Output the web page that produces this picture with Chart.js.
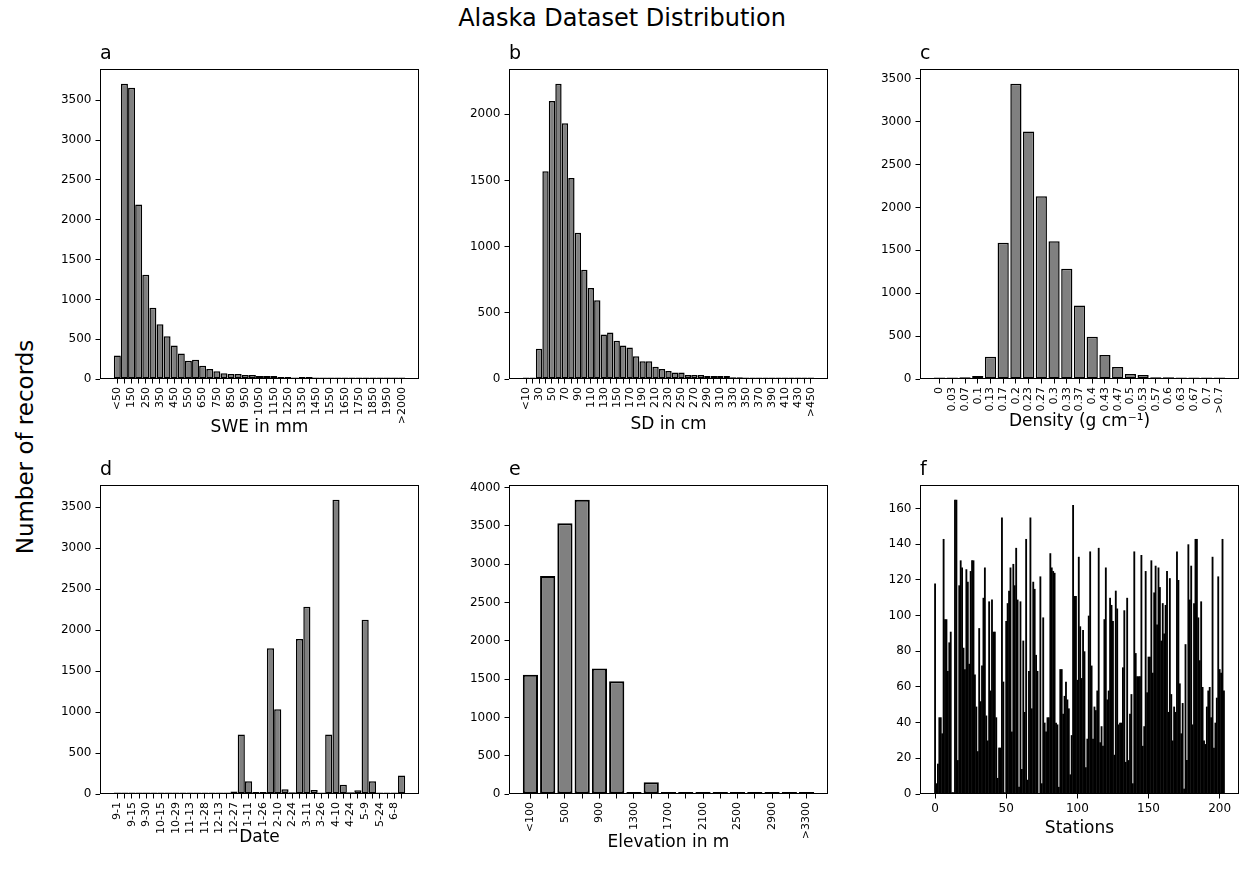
<!DOCTYPE html>
<html>
<head>
<meta charset="utf-8">
<title>Alaska Dataset Distribution</title>
<script src="https://cdn.jsdelivr.net/npm/chart.js@4.4.1/dist/chart.umd.min.js"></script>
<style>
  html, body { margin: 0; padding: 0; background: #fff; }
  #fig {
    position: relative; width: 1244px; height: 876px; overflow: hidden;
    background: #fff; color: #000; font-family: 'DejaVu Sans', sans-serif;
  }
  #fig canvas { position: absolute; }
  #suptitle {
    position: absolute; left: 0; top: 4px; width: 1244px;
    text-align: center; font-size: 24px; line-height: 28px;
  }
  #supylabel {
    position: absolute; left: 25px; top: 447px; white-space: nowrap;
    font-size: 23px; line-height: 28px;
    transform: translate(-50%, -50%) rotate(-90deg);
  }
</style>
</head>
<body>
<div id="fig">
  <div id="suptitle">Alaska Dataset Distribution</div>
  <div id="supylabel">Number of records</div>
  <canvas id="panel-a"></canvas>
  <canvas id="panel-b"></canvas>
  <canvas id="panel-c"></canvas>
  <canvas id="panel-d"></canvas>
  <canvas id="panel-e"></canvas>
  <canvas id="panel-f"></canvas>
</div>

<script>
/* ---------- data ---------- */

// a: SWE bins of 50 mm (labels shown on every other bin)
var sweTicks = ['<50', '150', '250', '350', '450', '550', '650', '750', '850', '950',
  '1050', '1150', '1250', '1350', '1450', '1550', '1650', '1750', '1850', '1950', '>2000'];
var sweCounts = [296, 3708, 3658, 2192, 1308, 896, 688, 538, 421, 321,
  229, 242, 167, 125, 96, 71, 62, 62, 50, 50,
  37, 37, 37, 25, 25, 12, 25, 25, 12, 8,
  8, 8, 8, 8, 8, 8, 8, 8, 8, 8, 8];

// b: snow depth bins of 10 cm
var sdTicks = ['<10', '30', '50', '70', '90', '110', '130', '150', '170', '190', '210',
  '230', '250', '270', '290', '310', '330', '350', '370', '390', '410', '430', '>450'];
var sdCounts = [3, 0, 228, 1570, 2100, 2230, 1932, 1518, 1104, 825,
  687, 594, 336, 351, 288, 253, 238, 171, 135, 135,
  93, 75, 60, 50, 50, 30, 30, 30, 23, 23,
  23, 23, 13, 13, 5, 10, 3, 10, 10, 3,
  3, 3, 3, 3, 3];

// c: bulk density
var densityTicks = ['0', '0.03', '0.07', '0.1', '0.13', '0.17', '0.2', '0.23', '0.27', '0.3',
  '0.33', '0.37', '0.4', '0.43', '0.47', '0.5', '0.53', '0.57', '0.6', '0.63', '0.67', '0.7', '>0.7'];
var densityCounts = [3, 3, 19, 35, 260, 1587, 3441, 2886, 2130, 1606,
  1284, 857, 493, 279, 140, 58, 47, 19, 19, 8,
  8, 8, 8];

// d: survey date, one bin per ~week
var dateTicks = ['9-1', '9-15', '9-30', '10-15', '10-29', '11-13', '11-28', '12-13', '12-27', '1-11',
  '1-26', '2-10', '2-24', '3-11', '3-26', '4-10', '4-24', '5-9', '5-24', '6-8'];
var dateCounts = [0, 0, 0, 0, 0, 0, 0, 0, 0, 0,
  0, 0, 0, 0, 0, 0, 30, 726, 154, 25,
  25, 1776, 1034, 57, 20, 1890, 2283, 49, 5, 726,
  3589, 114, 20, 45, 2125, 154, 0, 0, 0, 227];

// e: station elevation, 200 m bins
var elevTicks = ['<100', '500', '900', '1300', '1700', '2100', '2500', '2900', '>3300'];
var elevCounts = [1557, 2848, 3535, 3843, 1639, 1474, 0, 152, 0, 0,
  0, 0, 0, 0, 0, 0, 0];

// f: records per station
var stationTicks = [0, 50, 100, 150, 200];
var stationCounts = [
  118, 6, 17, 43, 43, 34, 143, 98, 98, 69,
  85, 91, 1, 1, 165, 165, 19, 117, 131, 127,
  82, 70, 126, 119, 73, 125, 131, 131, 67, 49,
  24, 93, 52, 72, 110, 127, 44, 30, 108, 58,
  109, 91, 91, 43, 9, 26, 26, 155, 63, 1,
  97, 107, 114, 127, 35, 129, 117, 138, 109, 4,
  108, 14, 86, 46, 143, 8, 69, 155, 48, 119,
  115, 78, 69, 0, 122, 6, 99, 40, 35, 43,
  43, 135, 127, 125, 124, 40, 39, 4, 70, 70,
  45, 55, 63, 53, 48, 11, 33, 162, 111, 111,
  64, 133, 94, 65, 92, 80, 15, 31, 100, 136,
  72, 31, 49, 47, 58, 138, 29, 38, 27, 98,
  127, 53, 58, 110, 106, 97, 22, 114, 104, 39,
  40, 40, 71, 103, 18, 110, 19, 45, 56, 6,
  136, 79, 66, 66, 66, 134, 27, 38, 125, 57,
  77, 77, 131, 68, 113, 128, 95, 127, 116, 86,
  107, 90, 106, 125, 46, 121, 56, 30, 49, 46,
  136, 120, 62, 34, 51, 3, 84, 19, 140, 109,
  128, 39, 107, 143, 143, 99, 75, 108, 60, 30,
  28, 49, 58, 60, 43, 133, 26, 40, 54, 122,
  70, 68, 143, 58];

/* ---------- layout ---------- */

Chart.defaults.font.family = "'DejaVu Sans', sans-serif";
Chart.defaults.color = '#000';

var PAD_TOP = 40;     // room above the axes for the panel letter
var PAD_LEFT = 70;    // y tick labels
var PAD_RIGHT = 8;
var PAD_BOTTOM = 110; // rotated x tick labels + axis title
var COL_X = [100, 509, 920];
var ROW_Y = [69, 485];
var AX_W = 319;
var AX_H = [310, 309];
var TICK_FONT = 12;     // y ticks and the station axis
var ROT_TICK_FONT = 11; // rotated bin labels

// frame around the axes and the panel letter
var framePlugin = {
  id: 'frame',
  afterDraw: function (chart) {
    var a = chart.chartArea;
    var ctx = chart.ctx;
    ctx.save();
    ctx.strokeStyle = '#000';
    ctx.lineWidth = 1;
    ctx.strokeRect(a.left + 0.5, a.top + 0.5, a.right - a.left - 1, a.bottom - a.top - 1);
    ctx.fillStyle = '#000';
    ctx.font = "19px 'DejaVu Sans', sans-serif";
    ctx.textAlign = 'left';
    ctx.textBaseline = 'alphabetic';
    ctx.fillText(chart.options.plugins.frame.letter, a.left, a.top - 10);
    ctx.restore();
  }
};

function everyOther(ticks) {
  return function (value) {
    return value % 2 === 0 ? ticks[value / 2] : '';
  };
}

function indexList(n) {
  var out = [];
  for (var i = 0; i < n; i++) out.push(i);
  return out;
}

function drawPanel(o) {
  var canvas = document.getElementById(o.id);
  var axH = AX_H[o.row];
  var left = COL_X[o.col] - PAD_LEFT;
  var top = ROW_Y[o.row] - PAD_TOP;
  canvas.width = PAD_LEFT + AX_W + PAD_RIGHT;
  canvas.height = PAD_TOP + axH + PAD_BOTTOM;
  canvas.style.left = left + 'px';
  canvas.style.top = top + 'px';

  var n = o.values.length;
  var margin = 0.05 * (n - 0.2);
  var points = o.values.map(function (v, i) { return { x: i, y: v }; });
  var ymax = Math.max.apply(null, o.values) * 1.05;
  var yticks = [];
  for (var t = 0; t <= ymax; t += o.step) yticks.push({ value: t });
  var titleFont = 17;
  var titlePad = canvas.height - (o.titleY - top) - titleFont * 1.2 / 2;

  return new Chart(canvas, {
    type: 'bar',
    data: {
      datasets: [{
        data: points,
        backgroundColor: o.fill,
        borderColor: '#000',
        borderWidth: o.border,
        borderSkipped: false,
        barPercentage: o.barPct,
        categoryPercentage: 1,
        minBarLength: o.minLen,
      }],
    },
    options: {
      responsive: false,
      animation: false,
      devicePixelRatio: 1,
      layout: { padding: { top: PAD_TOP, right: PAD_RIGHT, left: 0, bottom: 0 } },
      plugins: {
        legend: { display: false },
        tooltip: { enabled: false },
        frame: { letter: o.letter },
      },
      scales: {
        x: {
          type: 'linear',
          offset: false,
          min: -0.4 - margin,
          max: n - 0.6 + margin,
          afterBuildTicks: function (s) {
            s.ticks = o.xticks.map(function (v) { return { value: v }; });
          },
          afterFit: function (s) { s.height = PAD_BOTTOM; },
          ticks: {
            autoSkip: false,
            minRotation: o.rot,
            maxRotation: o.rot,
            padding: 3.5,
            font: { size: o.rot ? ROT_TICK_FONT : TICK_FONT },
            callback: o.xlabel,
          },
          grid: {
            drawOnChartArea: false,
            drawTicks: true,
            tickLength: 4.5,
            color: '#000',
            offset: false,
          },
          border: { display: false },
          title: {
            display: true,
            text: o.title,
            font: { size: titleFont },
            padding: { top: 0, bottom: titlePad },
          },
        },
        y: {
          min: 0,
          max: ymax,
          afterBuildTicks: function (s) { s.ticks = yticks; },
          afterFit: function (s) { s.width = PAD_LEFT; },
          ticks: {
            padding: 4,
            font: { size: TICK_FONT },
            callback: function (v) { return String(v); },
          },
          grid: {
            drawOnChartArea: false,
            drawTicks: true,
            tickLength: 4.5,
            color: '#000',
          },
          border: { display: false },
        },
      },
    },
    plugins: [framePlugin],
  });
}

drawPanel({
  id: 'panel-a', letter: 'a', row: 0, col: 0,
  values: sweCounts, xticks: indexList(sweCounts.length), xlabel: everyOther(sweTicks),
  rot: 90, step: 500, title: 'SWE in mm', titleY: 428,
  fill: '#808080', border: 1.5, barPct: 0.98, minLen: 1.5,
});

drawPanel({
  id: 'panel-b', letter: 'b', row: 0, col: 1,
  values: sdCounts, xticks: indexList(sdCounts.length), xlabel: everyOther(sdTicks),
  rot: 90, step: 500, title: 'SD in cm', titleY: 425,
  fill: '#808080', border: 1.5, barPct: 0.98, minLen: 1.5,
});

drawPanel({
  id: 'panel-c', letter: 'c', row: 0, col: 2,
  values: densityCounts, xticks: indexList(densityCounts.length),
  xlabel: function (v) { return densityTicks[v]; },
  rot: 90, step: 500, title: 'Density (g cm\u207B\u00B9)', titleY: 422,
  fill: '#808080', border: 1.5, barPct: 0.88, minLen: 1.5,
});

drawPanel({
  id: 'panel-d', letter: 'd', row: 1, col: 0,
  values: dateCounts, xticks: indexList(dateCounts.length), xlabel: everyOther(dateTicks),
  rot: 90, step: 500, title: 'Date', titleY: 838,
  fill: '#808080', border: 1.5, barPct: 0.98, minLen: 1.5,
});

drawPanel({
  id: 'panel-e', letter: 'e', row: 1, col: 1,
  values: elevCounts, xticks: indexList(elevCounts.length), xlabel: everyOther(elevTicks),
  rot: 90, step: 500, title: 'Elevation in m', titleY: 843,
  fill: '#808080', border: 2, barPct: 0.88, minLen: 2,
});

// stations are packed tighter than a pixel and a half, so the bars overlap slightly
drawPanel({
  id: 'panel-f', letter: 'f', row: 1, col: 2,
  values: stationCounts, xticks: stationTicks, xlabel: function (v) { return String(v); },
  rot: 0, step: 20, title: 'Stations', titleY: 829,
  fill: '#000', border: 0, barPct: 1.3, minLen: 0,
});
</script>
</body>
</html>
